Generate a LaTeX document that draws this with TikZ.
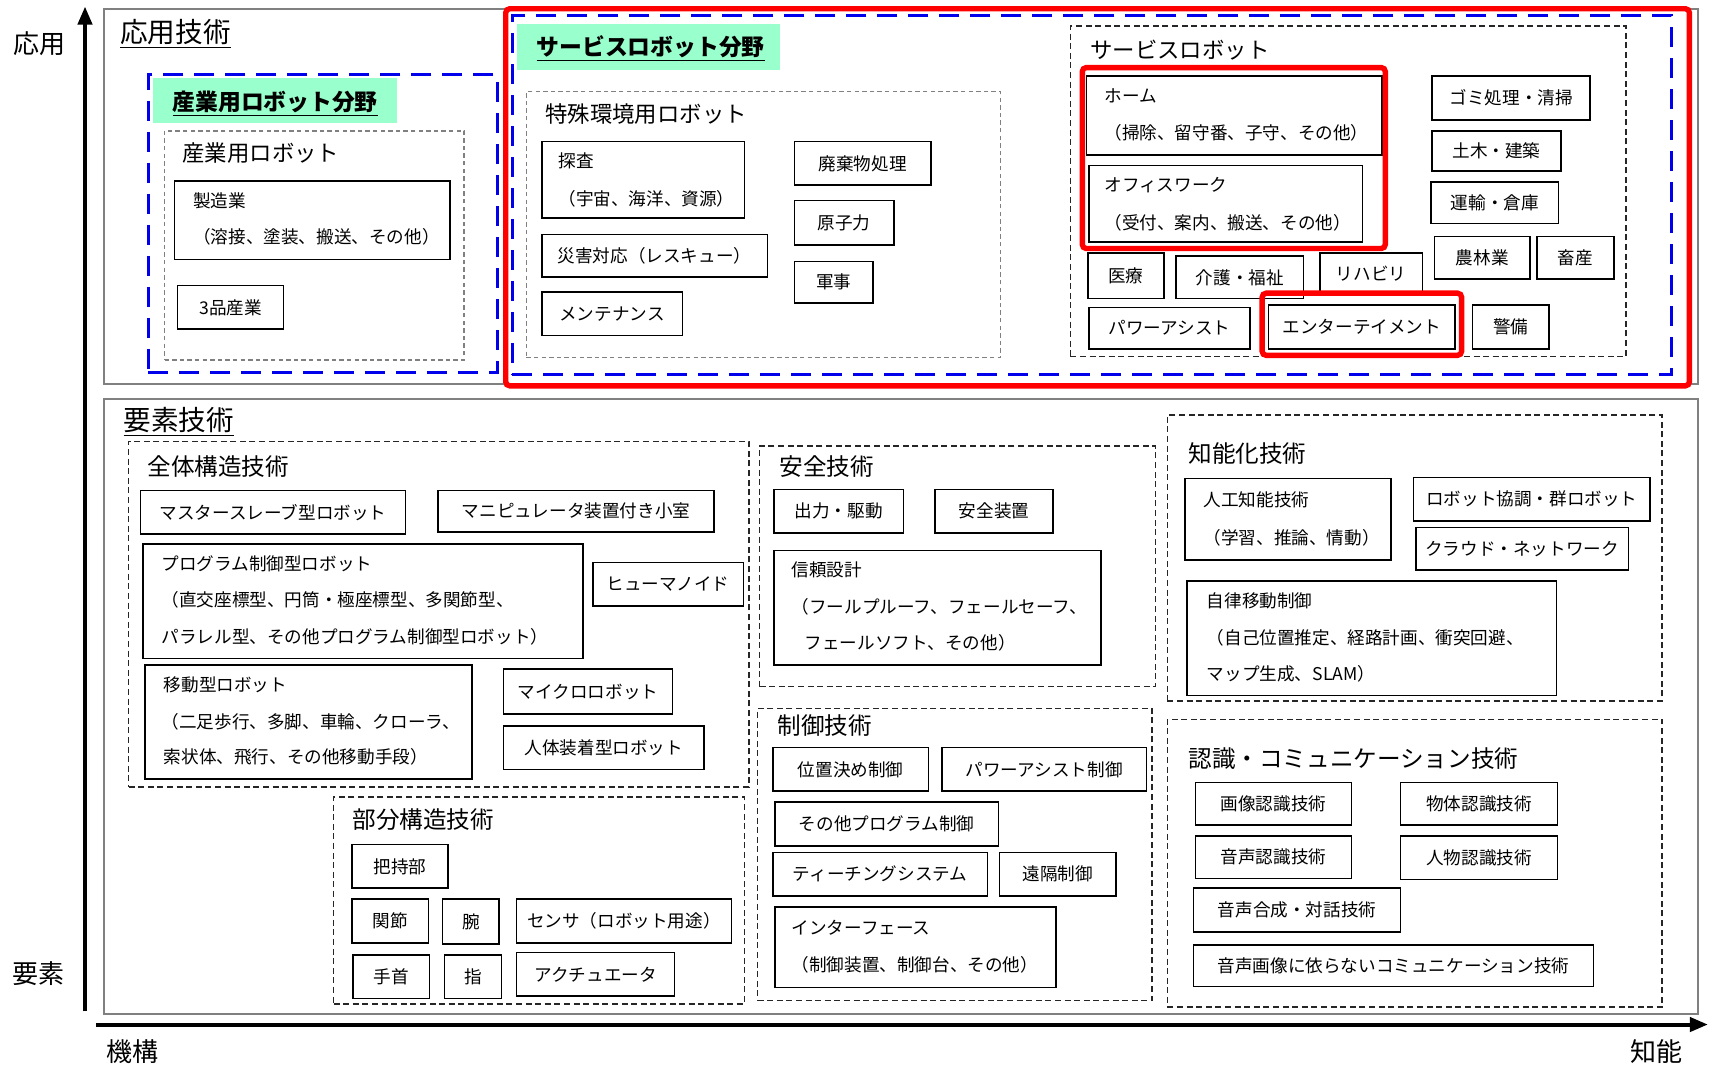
\documentclass[tikz,border=0pt]{standalone}
\usepackage{fontspec}
\setmainfont{Noto Sans CJK JP}
\usetikzlibrary{fit,arrows.meta}
\definecolor{mint}{RGB}{153,255,204}
\definecolor{bblue}{RGB}{0,0,235}
\definecolor{rred}{RGB}{255,0,0}
\definecolor{framegray}{RGB}{128,128,128}
\newcommand\bxfont{\fontsize{8.8}{10}\selectfont}
\newcommand\bigfont{\fontsize{13.8}{15}\selectfont}
\newcommand\fldfont{\fontsize{11.4}{13}\selectfont\bfseries}
\newcommand\subfont{\fontsize{11.2}{13}\selectfont}
\newcommand\secfont{\fontsize{11.8}{13}\selectfont}
\newcommand\axfont{\fontsize{13}{15}\selectfont}
\tikzset{
  bx/.style={draw=black, line width=0.8pt, inner sep=0pt},
  bxlabel/.style={inner sep=0pt, anchor=center, font=\bxfont},
  tx/.style={anchor=west, inner sep=0pt, font=\bxfont},
  outerbox/.style={draw=framegray, line width=1pt},
  bluebox/.style={draw=bblue, line width=1.5pt, dash pattern=on 10pt off 5.5pt},
  gbox/.style={draw=framegray, line width=0.9pt, dash pattern=on 2.2pt off 1.6pt},
  dboxk/.style={draw=black!85, line width=0.8pt, dash pattern=on 3pt off 1.8pt},
  redbox/.style={draw=rred, line width=2.7pt, rounded corners=2pt},
  mintfill/.style={fill=mint, draw=none},
  axisarrow/.style={line width=2pt, -{Triangle[length=9pt,width=7pt]}},
  axl/.style={inner sep=0pt, font=\axfont},
  bigttl/.style={anchor=base west, inner sep=0pt, font=\bigfont},
  fldttl/.style={anchor=base west, inner sep=0pt, font=\fldfont},
  subttl/.style={anchor=west, inner sep=0pt, font=\subfont},
  secttl/.style={anchor=west, inner sep=0pt, font=\secfont},
}
\newcommand\myframe[6]{\node[#2, fit={(#3,#4) (#5,#6)}, inner sep=0pt] (#1) {};}
\newcommand\mybox[6]{\node[bx, fit={(#2,#3) (#4,#5)}] (#1) {};
  \node[bxlabel] (#1t) at (#1.center) {#6};}
\newcommand\mymbox[5]{\node[bx, fit={(#2,#3) (#4,#5)}] (#1) {};}
\newcommand\mytext[4]{\node[tx] (#1) at (#2,#3) {#4};}
\begin{document}
\begin{tikzpicture}[x=0.545pt, y=-0.545pt]
\fill[white] (0,0) rectangle (1568,985.4);
\useasboundingbox (0,0) rectangle (1568,985.4);

% ---------- axes ----------
\coordinate (vbot) at (78,928);
\coordinate (vtop) at (78,6);
\coordinate (hleft) at (88,940);
\coordinate (hright) at (1567,940);
\draw[axisarrow] (vbot) -- (vtop);
\draw[axisarrow] (hleft) -- (hright);
\node[axl] (lOuyou) at (36,40) {応用};
\node[axl] (lYouso) at (35,893) {要素};
\node[axl] (lKikou) at (122,965) {機構};
\node[axl] (lChinou) at (1520,965) {知能};

% ---------- application technology ----------
\myframe{ouyou}{outerbox}{95}{8}{1558}{352}
\node[bigttl] (ouyout) at (110,39) {\underline{応用技術}};

\myframe{sanfld}{bluebox}{136}{68}{456}{342}
\myframe{sanlab}{mintfill}{140}{72}{364}{113}
\node[fldttl] (sanlabt) at (158,101) {\underline{産業用ロボット分野}};
\myframe{sanrob}{gbox}{151}{120}{426}{330}
\node[subttl] (sanrobt) at (167,140) {産業用ロボット};
\mymbox{seizo}{160}{166}{413}{238}
\mytext{seizoA}{177}{184}{製造業}
\mytext{seizoB}{177}{217}{（溶接、塗装、搬送、その他）}
\mybox{sanhin}{163}{262}{260}{302}{3品産業}

\myframe{servfld}{bluebox}{470}{14}{1534}{344}
\myframe{servlab}{mintfill}{474}{22}{716}{64}
\node[fldttl] (servlabt) at (492,51) {\underline{サービスロボット分野}};
\myframe{tokushu}{gbox}{483}{84}{918}{328}
\node[subttl] (tokushut) at (500,105) {特殊環境用ロボット};
\mymbox{tansa}{497}{130}{683}{200}
\mytext{tansaA}{512}{148}{探査}
\mytext{tansaB}{512}{182}{（宇宙、海洋、資源）}
\mybox{saigai}{497}{215}{704}{254}{災害対応（レスキュー）}
\mybox{mainte}{497}{268}{626}{308}{メンテナンス}
\mybox{haiki}{729}{130}{854}{170}{廃棄物処理}
\mybox{genshi}{729}{184}{820}{225}{原子力}
\mybox{gunji}{729}{240}{801}{278}{軍事}

\myframe{servrob}{dboxk}{982}{24}{1492}{327}
\node[subttl] (servrobt) at (1000,46) {サービスロボット};
\mymbox{home}{997}{70}{1268}{142}
\mytext{homeA}{1013}{88}{ホーム}
\mytext{homeB}{1013}{122}{（掃除、留守番、子守、その他）}
\mymbox{office}{999}{152}{1250}{222}
\mytext{officeA}{1013}{170}{オフィスワーク}
\mytext{officeB}{1013}{204}{（受付、案内、搬送、その他）}
\mybox{gomi}{1314}{70}{1459}{110}{ゴミ処理・清掃}
\mybox{doboku}{1314}{120}{1432}{157}{土木・建築}
\mybox{unyu}{1313}{167}{1430}{205}{運輸・倉庫}
\mybox{nourin}{1316}{217}{1404}{256}{農林業}
\mybox{chiku}{1410}{217}{1481}{256}{畜産}
\mybox{iryo}{998}{232}{1068}{274}{医療}
\mybox{kaigo}{1079}{235}{1196}{274}{介護・福祉}
\mybox{riha}{1211}{232}{1305}{270}{リハビリ}
\mybox{power}{999}{282}{1147}{320}{パワーアシスト}
\mybox{enter}{1164}{280}{1335}{320}{エンターテイメント}
\mybox{keibi}{1351}{280}{1421}{320}{警備}

% ---------- element technology ----------
\myframe{youso}{outerbox}{95}{366}{1558}{930}
\node[bigttl] (yousot) at (113,395) {\underline{要素技術}};

\myframe{zentai}{dboxk}{118}{405}{687}{722}
\node[secttl] (zentait) at (135,428) {全体構造技術};
\mybox{master}{129}{450}{372}{490}{マスタースレーブ型ロボット}
\mybox{mani}{402}{450}{655}{488}{マニピュレータ装置付き小室}
\mymbox{prog}{131}{499}{535}{604}
\mytext{progA}{148}{517}{プログラム制御型ロボット}
\mytext{progB}{148}{550}{（直交座標型、円筒・極座標型、多関節型、}
\mytext{progC}{148}{584}{パラレル型、その他プログラム制御型ロボット）}
\mybox{human}{544}{516}{682}{556}{ヒューマノイド}
\mymbox{idou}{133}{610}{433}{715}
\mytext{idouA}{150}{628}{移動型ロボット}
\mytext{idouB}{148}{662}{（二足歩行、多脚、車輪、クローラ、}
\mytext{idouC}{150}{694}{索状体、飛行、その他移動手段）}
\mybox{micro}{462}{614}{617}{655}{マイクロロボット}
\mybox{jintai}{462}{666}{646}{706}{人体装着型ロボット}

\myframe{bubun}{dboxk}{306}{731}{683}{921}
\node[secttl] (bubunt) at (323,752) {部分構造技術};
\mybox{haji}{323}{775}{411}{815}{把持部}
\mybox{kansetsu}{323}{825}{393}{865}{関節}
\mybox{ude}{406}{825}{458}{866}{腕}
\mybox{sensa}{474}{825}{671}{865}{センサ（ロボット用途）}
\mybox{tekubi}{324}{876}{394}{916}{手首}
\mybox{yubi}{408}{876}{460}{916}{指}
\mybox{actu}{474}{874}{619}{914}{アクチュエータ}

\myframe{anzen}{dboxk}{697}{409}{1060}{630}
\node[secttl] (anzent) at (715,428) {安全技術};
\mybox{shutsu}{710}{449}{829}{489}{出力・駆動}
\mybox{anzens}{858}{449}{966}{489}{安全装置}
\mymbox{shinrai}{710}{505}{1010}{610}
\mytext{shinraiA}{726}{523}{信頼設計}
\mytext{shinraiB}{726}{557}{（フールプルーフ、フェールセーフ、}
\mytext{shinraiC}{738}{590}{フェールソフト、その他）}

\myframe{seigyo}{dboxk}{695}{650}{1057}{918}
\node[secttl] (seigyot) at (713,666) {制御技術};
\mybox{ichi}{709}{686}{852}{726}{位置決め制御}
\mybox{pwc}{864}{686}{1052}{726}{パワーアシスト制御}
\mybox{sonota}{711}{736}{916}{776}{その他プログラム制御}
\mybox{teach}{709}{782}{906}{822}{ティーチングシステム}
\mybox{enkaku}{917}{782}{1024}{822}{遠隔制御}
\mymbox{inter}{711}{832}{969}{906}
\mytext{interA}{726}{851}{インターフェース}
\mytext{interB}{726}{885}{（制御装置、制御台、その他）}

\myframe{chino}{dboxk}{1071}{381}{1525}{643}
\node[secttl] (chinot) at (1090,416) {知能化技術};
\mymbox{ai}{1087}{439}{1276}{514}
\mytext{aiA}{1104}{459}{人工知能技術}
\mytext{aiB}{1104}{493}{（学習、推論、情動）}
\mybox{kyocho}{1297}{438}{1514}{478}{ロボット協調・群ロボット}
\mybox{cloud}{1299}{484}{1494}{523}{クラウド・ネットワーク}
\mymbox{jiritsu}{1089}{533}{1428}{638}
\mytext{jiritsuA}{1107}{551}{自律移動制御}
\mytext{jiritsuB}{1107}{585}{（自己位置推定、経路計画、衝突回避、}
\mytext{jiritsuC}{1107}{618}{マップ生成、SLAM）}

\myframe{ninshiki}{dboxk}{1071}{660}{1525}{924}
\node[secttl] (ninshikit) at (1090,696) {認識・コミュニケーション技術};
\mybox{gazo}{1097}{718}{1240}{757}{画像認識技術}
\mybox{buttai}{1285}{718}{1429}{757}{物体認識技術}
\mybox{onsei}{1097}{767}{1240}{806}{音声認識技術}
\mybox{jinbutsu}{1285}{767}{1429}{807}{人物認識技術}
\mybox{gousei}{1095}{815}{1285}{855}{音声合成・対話技術}
\mybox{izora}{1095}{867}{1462}{905}{音声画像に依らないコミュニケーション技術}

% ---------- red highlights ----------
\myframe{redbig}{redbox}{464}{8}{1550}{354}
\myframe{redhome}{redbox}{993}{62}{1271}{228}
\myframe{redenter}{redbox}{1158}{269}{1341}{326}
\end{tikzpicture}
\end{document}
